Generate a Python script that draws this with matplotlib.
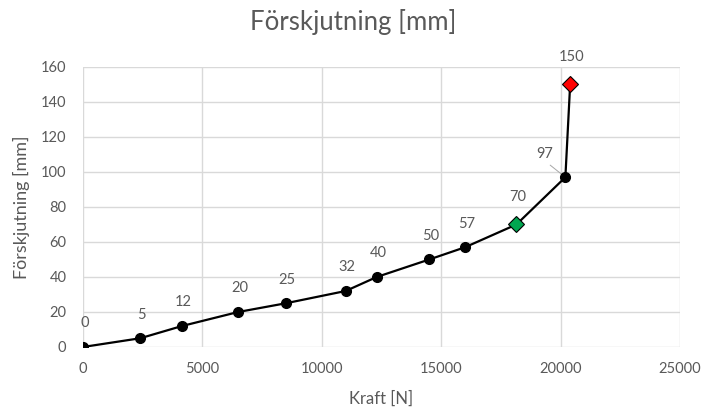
import matplotlib.pyplot as plt

# data
kraft = [0, 2400, 4150, 6500, 8500, 11000, 12300, 14500, 16000, 18150, 20200, 20400]
forskjutning = [0, 5, 12, 20, 25, 32, 40, 50, 57, 70, 97, 150]
etiketter = ['0', '5', '12', '20', '25', '32', '40', '50', '57', '70', '97', '150']

gra = '#595959'
plt.rcParams['font.family'] = ['Lato', 'DejaVu Sans']

fig = plt.figure(figsize=(7.07, 4.12), dpi=100)
ax = fig.add_axes([0.1174, 0.1578, 0.8444, 0.6796])

ax.plot(kraft, forskjutning, '-', color='black', lw=1.6, zorder=3)
ax.plot(kraft[:9] + [kraft[10]], forskjutning[:9] + [forskjutning[10]], 'o',
        color='black', markersize=7, zorder=4)
ax.plot(kraft[9], forskjutning[9], 'D', color='#00A650', mec='black', mew=0.8,
        markersize=8, zorder=5)
ax.plot(kraft[11], forskjutning[11], 'D', color='#FF0000', mec='black', mew=0.8,
        markersize=8, zorder=5)

# value labels
for i, txt in enumerate(etiketter):
    dx, dy = 1, 17
    if txt in ('70', '150'):
        dy = 20
    if txt == '97':
        ax.annotate(txt, (kraft[i], forskjutning[i]), xytext=(-15, 17),
                    textcoords='offset points', ha='center', va='center',
                    color=gra, fontsize=10.5,
                    arrowprops=dict(arrowstyle='-', color='#A6A6A6', lw=0.7,
                                    relpos=(0.5, 0), shrinkA=2, shrinkB=3))
        continue
    ax.annotate(txt, (kraft[i], forskjutning[i]), xytext=(dx, dy),
                textcoords='offset points', ha='center', va='center',
                color=gra, fontsize=10.5)

ax.set_xlim(0, 25000)
ax.set_ylim(0, 160)
ax.set_xticks(range(0, 25001, 5000))
ax.set_yticks(range(0, 161, 20))
ax.grid(True, color='#D9D9D9', lw=1)
ax.set_axisbelow(True)
for s in ax.spines.values():
    s.set_visible(False)
ax.tick_params(axis='x', length=0, colors=gra, labelsize=10.5, pad=11)
ax.tick_params(axis='y', length=0, colors=gra, labelsize=10.5, pad=12)

fig.text(0.5, 1 - 22 / 412, 'Förskjutning [mm]', color=gra, fontsize=18.5,
         ha='center', va='center')
ax.set_xlabel('Kraft [N]', color=gra, fontsize=12, labelpad=10)
ax.set_ylabel('Förskjutning [mm]', color=gra, fontsize=13, labelpad=8)

fig.savefig('out.png', dpi=100)
